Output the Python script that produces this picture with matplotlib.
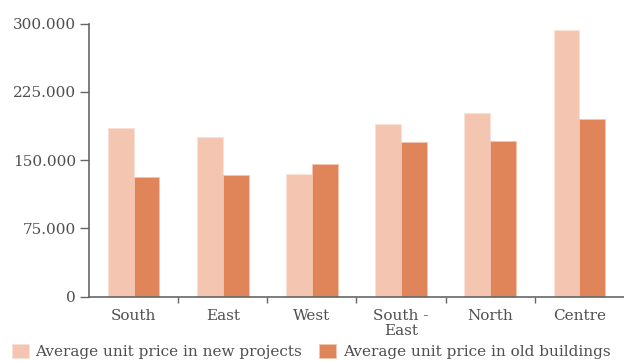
import numpy as np
import matplotlib.pyplot as plt
from matplotlib.ticker import FuncFormatter, FixedLocator

# Average unit prices by district
districts = ["South", "East", "West", "South -\nEast", "North", "Centre"]
new_projects = [185700, 175800, 134500, 189800, 201900, 293100]
old_buildings = [131200, 133400, 146200, 170300, 171400, 194900]
series_names = ["Average unit price in new projects", "Average unit price in old buildings"]
y_ticks = [0, 75000, 150000, 225000, 300000]

light = "#f4c5b0"
dark = "#e0845a"
axis_grey = "#666666"
text_grey = "#4f4f4f"

plt.rcParams['font.family'] = ['DejaVu Serif']
plt.rcParams['font.size'] = 11

fig = plt.figure(figsize=(6.24, 3.61), dpi=100)
ax = fig.add_axes([89 / 624, 64.3 / 361, 1 - 89 / 624, (296.7 - 23.7) / 361])

x = np.arange(len(districts))
w = 0.289
ax.bar(x - w / 2, new_projects, w, color=light, edgecolor="#fbe2d6", linewidth=0.6,
       label=series_names[0])
ax.bar(x + w / 2, old_buildings, w, color=dark, edgecolor="#f3c4ae", linewidth=0.6,
       label=series_names[1])

ax.set_xlim(-0.5, len(districts) - 0.5)
ax.set_ylim(0, 300000)

ax.set_yticks(y_ticks)
ax.yaxis.set_major_formatter(FuncFormatter(lambda v, p: f"{int(v):,}".replace(",", ".")))
ax.tick_params(axis="y", length=6.3, width=1, color=axis_grey, labelcolor=text_grey, pad=3)

# labels under the groups, tick marks between them
ax.set_xticks(x)
ax.set_xticklabels(districts, linespacing=1.05)
ax.tick_params(axis="x", which="major", length=0, pad=9, labelcolor=text_grey)
ax.xaxis.set_minor_locator(FixedLocator(x[:-1] + 0.5))
ax.tick_params(axis="x", which="minor", length=4.5, width=1, color=axis_grey)

for side in ["top", "right"]:
    ax.spines[side].set_visible(False)
for side in ["left", "bottom"]:
    ax.spines[side].set_color(axis_grey)
    ax.spines[side].set_linewidth(1.2)

fig.legend(loc="center left", bbox_to_anchor=(11.7 / 624, 9.5 / 361), ncol=2,
           frameon=False, borderpad=0, borderaxespad=0, handlelength=1.1,
           handleheight=1.1, handletextpad=0.45, columnspacing=1.1,
           labelcolor=text_grey)

fig.savefig("out.png", dpi=100)
